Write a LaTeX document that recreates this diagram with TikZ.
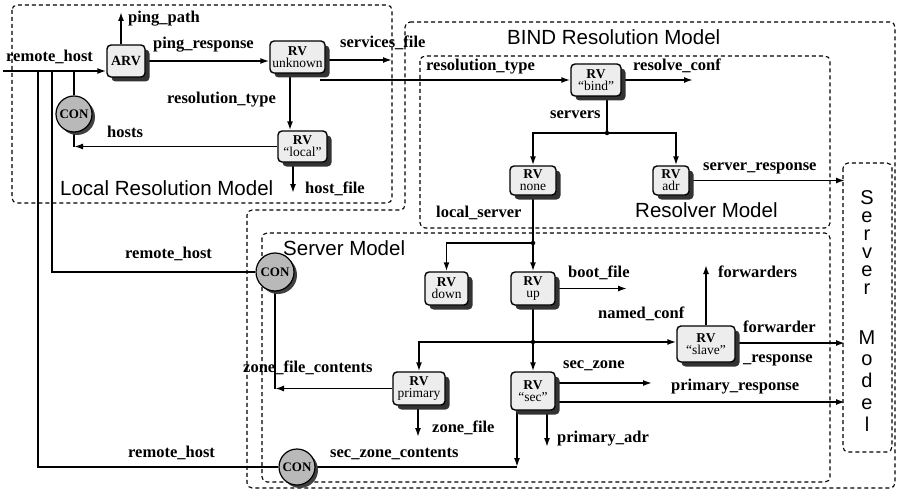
\documentclass[tikz,border=0pt]{standalone}
\usepackage{fontspec}
\setmainfont{Liberation Serif}
\newfontfamily\sansfam{Liberation Sans}
\usetikzlibrary{arrows.meta,shadows,calc}
\pgfdeclarelayer{bg}
\pgfsetlayers{bg,main}
\begin{document}
\begin{tikzpicture}[x=1pt,y=-1pt,
 rvbox/.style={draw=black, line width=1.4pt, fill=gray!14, rounded corners=4pt, inner sep=0pt, align=center,
   font=\fontsize{13.5}{12}\selectfont,
   general shadow={fill=black!80, shadow xshift=4.5pt, shadow yshift=-4.5pt}},
 conbox/.style={circle, draw=black, line width=1.2pt, fill=gray!55, inner sep=0pt, minimum size=36pt,
   font=\fontsize{13}{13}\selectfont\bfseries,
   general shadow={fill=black!75, shadow xshift=3pt, shadow yshift=-3pt}},
 lbl/.style={anchor=base west, inner sep=0pt, font=\fontsize{16.5}{18}\selectfont\bfseries},
 ttl/.style={anchor=base west, inner sep=0pt, font=\sansfam\fontsize{20.5}{22}\selectfont},
 conn/.style={line width=1.6pt},
 arr/.style={conn, -{Latex[length=9pt,width=6pt]}},
 region/.style={line width=1.1pt, dash pattern=on 4pt off 3pt, rounded corners=5pt},
 jdot/.style={circle, fill=black, inner sep=0pt, minimum size=4.5pt}
]
\useasboundingbox (0,0) rectangle (899,492);

% ---------- nodes ----------
\node[rvbox, minimum width=38pt, minimum height=32pt, font=\fontsize{14}{14}\selectfont\bfseries] (arv) at (126,61) {ARV};
\node[rvbox, minimum width=55pt, minimum height=32pt] (unk) at (297.5,57) {{\bfseries RV}\\unknown};
\node[rvbox, minimum width=49pt, minimum height=31pt] (loc) at (302.5,146.5) {{\bfseries RV}\\``local''};
\node[rvbox, minimum width=50pt, minimum height=32pt] (bind) at (596,80) {{\bfseries RV}\\``bind''};
\node[rvbox, minimum width=46pt, minimum height=29pt] (none) at (533,180.5) {{\bfseries RV}\\none};
\node[rvbox, minimum width=36pt, minimum height=29pt] (adr) at (671,180.5) {{\bfseries RV}\\adr};
\node[rvbox, minimum width=43pt, minimum height=33pt] (down) at (446.5,288.5) {{\bfseries RV}\\down};
\node[rvbox, minimum width=44pt, minimum height=33pt] (up) at (533,288.5) {{\bfseries RV}\\up};
\node[rvbox, minimum width=58pt, minimum height=36pt] (slave) at (706,344) {{\bfseries RV}\\``slave''};
\node[rvbox, minimum width=52pt, minimum height=33pt] (prim) at (419,388.5) {{\bfseries RV}\\primary};
\node[rvbox, minimum width=44pt, minimum height=38pt] (sec) at (533,391) {{\bfseries RV}\\``sec''};

\node[conbox] (con1) at (74,114) {CON};
\node[conbox, minimum size=38pt] (con2) at (275,272) {CON};
\node[conbox] (con3) at (297,467) {CON};

% ---------- coordinates ----------
\coordinate (rh) at (3,71);
\coordinate (t1) at (38,71);
\coordinate (t2) at (52,71);
\coordinate (t3) at (74,71);
\coordinate (pp) at (121,12);
\coordinate (sf) at (392,60);
\coordinate (rt) at (320,80);
\coordinate (rd) at (290,0);
\coordinate (hf) at (293,193);
\coordinate (rc) at (693,80);
\coordinate (sv) at (607,133);
\coordinate (sr) at (845,180.5);
\coordinate (ls) at (533,243);
\coordinate (nc) at (533,342);
\coordinate (bf) at (627,288.5);
\coordinate (fw) at (706,265);
\coordinate (fr) at (845,343);
\coordinate (sz) at (652,383);
\coordinate (pr) at (845,402);
\coordinate (pa) at (547,447);
\coordinate (szc) at (517,467);
\coordinate (zf) at (418,437);

% ---------- connectors and regions ----------
\begin{pgfonlayer}{bg}
\draw[region] (12,5) rectangle (392,203);
\draw[region] (405,22) -- (895,22) -- (895,488) -- (247,488) -- (247,210) -- (405,210) -- cycle;
\draw[region] (420,56) rectangle (830,228);
\draw[region] (262,233) rectangle (830,482);
\draw[region] (843,163) rectangle (892,452);

\draw[arr] (rh) -- (rh -| arv.west);
\draw[conn] (t1) |- (con3.west);
\draw[conn] (t2) |- (con2.west);
\draw[conn] (t3) -- (con1.north);
\draw[arr] (arv.north -| pp) -- (pp);
\draw[arr] (arv.east) -- (arv.east -| unk.west);
\draw[arr] (unk.east |- sf) -- (sf);
\draw[arr] (rt) -- (bind.west);
\draw[arr] (unk.south -| rd) -- (loc.north -| rd);
\draw[arr] (loc.west) -- (loc.west -| con1);
\draw[conn] (con1.south) -- (loc.west -| con1);
\draw[arr] (loc.south -| hf) -- (hf);
\draw[arr] (bind.east) -- (rc);
\draw[conn] (bind.south -| sv) -- (sv);
\draw[arr] (sv) -| (none.north);
\draw[arr] (sv) -| ([xshift=5pt]adr.north);
\draw[arr] (adr.east) -- (sr);
\draw[conn] (none.south) -- (ls);
\draw[arr] (ls) -- (up.north);
\draw[arr] (ls) -| (down.north);
\draw[conn] (up.south) -- (nc);
\draw[arr] (nc) -- (sec.north);
\draw[arr] (nc) -- (nc -| slave.west);
\draw[arr] (nc) -| (prim.north);
\draw[arr] (up.east) -- (bf);
\draw[arr] (slave.north) -- (fw);
\draw[arr] (slave.east |- fr) -- (fr);
\draw[arr] (sec.east |- sz) -- (sz);
\draw[arr] (sec.east |- pr) -- (pr);
\draw[arr] (sec.south -| pa) -- (pa);
\draw[arr] (sec.south -| szc) -- (szc);
\draw[conn] (con3.east) -- (szc);
\draw[arr] (prim.south -| zf) -- (zf);
\draw[arr] (prim.west) -- (prim.west -| con2);
\draw[conn] (con2.south) -- (prim.west -| con2);
\end{pgfonlayer}

\node[jdot] (d1) at (sv) {};
\node[jdot] (d2) at (ls) {};
\node[jdot] (d3) at (nc) {};

% ---------- labels ----------
\node[lbl] (l1) at (128,23) {ping\_path};
\node[lbl] (l2) at (6,62) {remote\_host};
\node[lbl] (l3) at (153,49) {ping\_response};
\node[lbl] (l4) at (340,48) {services\_file};
\node[lbl] (l5) at (167,104) {resolution\_type};
\node[lbl] (l6) at (107,137) {hosts};
\node[lbl] (l7) at (305,193) {host\_file};
\node[lbl] (l8) at (426,71) {resolution\_type};
\node[lbl] (l9) at (633,71) {resolve\_conf};
\node[lbl] (l10) at (550,119) {servers};
\node[lbl] (l11) at (703,170) {server\_response};
\node[lbl] (l12) at (436,217) {local\_server};
\node[lbl] (l13) at (125,258) {remote\_host};
\node[lbl] (l14) at (243,372) {zone\_file\_contents};
\node[lbl] (l15) at (128,457) {remote\_host};
\node[lbl] (l16) at (330,457) {sec\_zone\_contents};
\node[lbl] (l17) at (568,277) {boot\_file};
\node[lbl] (l18) at (718,277) {forwarders};
\node[lbl] (l19) at (598,318) {named\_conf};
\node[lbl] (l20) at (743,332) {forwarder};
\node[lbl] (l21) at (743,362) {\_response};
\node[lbl] (l22) at (563,368) {sec\_zone};
\node[lbl] (l23) at (671,390) {primary\_response};
\node[lbl] (l24) at (432,432) {zone\_file};
\node[lbl] (l25) at (557,442) {primary\_adr};

\node[ttl] (t_local) at (60,195) {Local Resolution Model};
\node[ttl] (t_bind) at (507,45) {BIND Resolution Model};
\node[ttl] (t_res) at (635,217) {Resolver Model};
\node[ttl] (t_srv) at (283,255) {Server Model};

\node[anchor=north, inner sep=0pt, align=center, font=\sansfam\fontsize{20}{18}\selectfont] (smodel) at (867,190)
  {S\\e\\r\\v\\e\\r\\[32pt]M\\[3.75pt]o\\[3.75pt]d\\[3.75pt]e\\[3.75pt]l};
\end{tikzpicture}
\end{document}
